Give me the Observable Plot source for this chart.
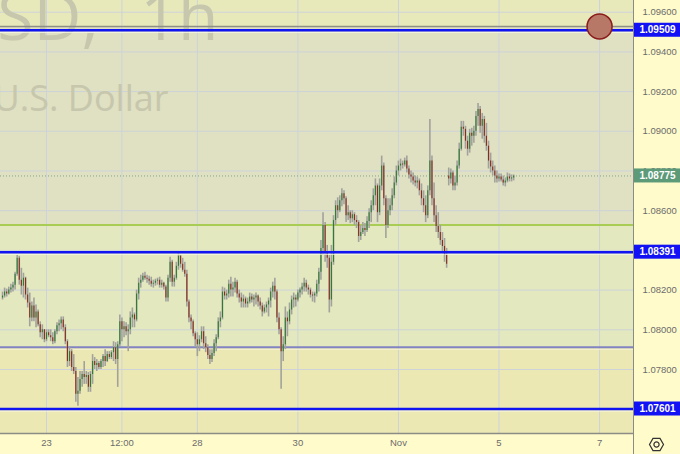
<!DOCTYPE html>
<html><head><meta charset="utf-8">
<script src="https://cdn.jsdelivr.net/npm/d3@7"></script>
<script src="https://cdn.jsdelivr.net/npm/@observablehq/plot@0.6"></script>
<style>
html,body{margin:0;padding:0;background:#fffbcb;}
#chart{width:680px;height:454px;}
</style>
</head><body><div id="chart"></div>
<script>
// Hourly candles; t = trading hours since Oct 23 00:00 (weekends removed)
const startHour = -21;
const firstOpen = 1.0816;
const gapIndex = 213;      // first candle after the weekend (Nov 4 open)
const gapOpen = 1.08775;

const high = [1.0819,1.0821,1.08205,1.08215,1.0823,1.0824,1.0829,1.08375,1.0837,1.0831,1.08285,1.08265,1.0821,1.08185,1.0814,1.0816,1.08125,1.0810,1.0804,1.08025,1.0800,
1.0800,1.0800,1.0800,1.07985,1.0800,1.08035,1.0805,1.08065,1.08065,1.08025,1.0795,1.0791,1.0790,1.07875,1.0781,1.0776,1.0779,1.0779,1.0784,1.0779,1.07785,1.0779,1.07875,1.0786,
1.0785,1.0784,1.0785,1.07875,1.0790,1.0789,1.0789,1.07895,1.0794,1.07935,1.0794,1.08075,1.0806,1.0804,1.08035,1.08025,1.0809,1.0811,1.08085,1.0820,1.0826,1.08275,1.08285,1.0829,
1.08275,1.0827,1.08265,1.0825,1.08255,1.0826,1.08265,1.0825,1.0824,1.08225,1.08275,1.08365,1.0835,1.08275,1.0834,1.0839,1.08375,1.0836,1.0834,1.0830,1.0815,1.08075,1.0805,1.0799,
1.07985,1.0797,1.08015,1.08015,1.07965,1.07925,1.0790,1.0790,1.0795,1.07975,1.0806,1.0809,1.08215,1.0821,1.0820,1.0825,1.08265,1.0824,1.0826,1.0825,1.0820,1.08185,1.08175,1.08165,
1.0816,1.08185,1.0818,1.08175,1.08185,1.08175,1.0816,1.08135,1.08125,1.0814,1.0816,1.0821,1.0824,1.0826,1.0820,1.08085,1.0801,1.07965,1.08115,1.0809,1.08135,1.0817,1.08185,1.08175,
1.0820,1.0821,1.08235,1.0826,1.0825,1.08225,1.0821,1.0819,1.0819,1.0825,1.0831,1.0845,1.0859,1.0854,1.08425,1.08375,1.08425,1.08575,1.0865,1.08665,1.08675,1.0871,1.0870,1.0867,
1.08625,1.0860,1.0860,1.0859,1.08575,1.0855,1.08525,1.0854,1.08535,1.0857,1.0861,1.0865,1.0871,1.0876,1.08735,1.0876,1.08875,1.0884,1.08675,1.0866,1.0866,1.0871,1.0877,1.08825,
1.0885,1.0886,1.0885,1.08865,1.08875,1.08825,1.0880,1.0879,1.08775,1.0877,1.0876,1.08735,1.0870,1.08675,1.08725,1.0906,1.08875,1.0874,1.08625,1.0859,1.08525,1.0849,1.0846,1.0841,
1.08815,1.0881,1.0880,1.08775,1.0885,1.0894,1.0905,1.0905,1.09025,1.08975,1.0901,1.09015,1.09025,1.0910,1.0914,1.09125,1.0909,1.09075,1.0904,1.0895,1.0889,1.0885,1.08825,1.0880,
1.08785,1.08785,1.08775,1.08765,1.0879,1.08785,1.0878,1.0878];

const low = [1.0815,1.0816,1.08165,1.08175,1.08185,1.0819,1.0820,1.0827,1.08225,1.08175,1.0816,1.0815,1.0811,1.08015,1.0804,1.0804,1.0801,1.08015,1.0796,1.0795,1.07935,
1.0794,1.0796,1.0794,1.07925,1.0793,1.07975,1.0799,1.0800,1.0799,1.07925,1.0781,1.07815,1.0779,1.07775,1.07635,1.07615,1.07675,1.0771,1.07725,1.07725,1.07685,1.07685,1.07725,1.0780,
1.0779,1.0780,1.0780,1.0781,1.07815,1.07835,1.0785,1.0785,1.0784,1.07825,1.0771,1.07915,1.0794,1.0796,1.0797,1.0789,1.07975,1.0801,1.0801,1.0804,1.0815,1.0821,1.0824,1.0825,
1.08235,1.08225,1.08215,1.0821,1.0822,1.08225,1.0821,1.0821,1.0820,1.0814,1.0814,1.0824,1.08215,1.08215,1.0825,1.0830,1.0831,1.0829,1.08265,1.08115,1.08035,1.0800,1.07965,1.07915,
1.07865,1.0789,1.07935,1.0790,1.07885,1.0785,1.07825,1.07835,1.07865,1.0789,1.0795,1.0801,1.0805,1.0815,1.0815,1.0816,1.08165,1.08165,1.08185,1.0816,1.08135,1.0811,1.0811,1.0811,
1.0811,1.0813,1.08135,1.08115,1.08125,1.08115,1.0810,1.08065,1.0808,1.08085,1.08065,1.0811,1.0816,1.0815,1.08035,1.07975,1.0770,1.0784,1.0790,1.07965,1.08025,1.08075,1.0811,1.08115,
1.0814,1.0816,1.08175,1.0819,1.0819,1.08175,1.0816,1.0814,1.08135,1.08165,1.0819,1.0825,1.08375,1.0834,1.0831,1.08085,1.08115,1.08325,1.08525,1.0856,1.0859,1.0862,1.0863,1.0854,
1.0855,1.08535,1.0854,1.08525,1.0851,1.0844,1.0845,1.0848,1.0847,1.0849,1.0851,1.0854,1.0860,1.08625,1.0854,1.08575,1.0870,1.08625,1.0846,1.0851,1.08575,1.0860,1.0866,1.08725,
1.08775,1.0880,1.0881,1.0882,1.0879,1.0876,1.0874,1.0873,1.0872,1.0871,1.08675,1.08625,1.0859,1.0854,1.0856,1.08675,1.08625,1.0854,1.0849,1.0846,1.08425,1.0839,1.0834,1.0831,
1.08725,1.08735,1.0870,1.0870,1.08725,1.0881,1.0890,1.08975,1.0891,1.08875,1.0889,1.08925,1.0894,1.08975,1.09025,1.0899,1.0896,1.0894,1.0890,1.0881,1.0879,1.08775,1.0874,1.0874,
1.08745,1.08745,1.08725,1.0872,1.0874,1.08745,1.08745,1.0875];

const close = [1.0817,1.0819,1.0818,1.0820,1.0821,1.08225,1.0828,1.0836,1.0825,1.0822,1.0826,1.08175,1.08135,1.0806,1.0812,1.0806,1.0809,1.08025,1.07985,1.0800,1.0795,
1.07985,1.0797,1.0796,1.0794,1.0799,1.0802,1.0803,1.0805,1.0801,1.0794,1.0784,1.0789,1.0781,1.0779,1.07675,1.0769,1.0775,1.07775,1.0776,1.0777,1.0771,1.07775,1.0784,1.0782,
1.0783,1.0781,1.0784,1.07865,1.0784,1.07875,1.0786,1.07885,1.0791,1.0785,1.07925,1.0804,1.0800,1.08015,1.0799,1.0800,1.0806,1.08075,1.0805,1.0818,1.08235,1.0825,1.0827,1.0826,
1.08255,1.08245,1.0823,1.08235,1.08245,1.0825,1.08225,1.08235,1.08215,1.0816,1.0826,1.0834,1.0824,1.0826,1.0832,1.0837,1.0833,1.0830,1.0828,1.0814,1.0806,1.0804,1.0798,1.0795,
1.07925,1.0795,1.0799,1.0793,1.0791,1.0787,1.0785,1.0788,1.0793,1.0796,1.0804,1.0806,1.0819,1.0817,1.0818,1.0823,1.0820,1.0821,1.0824,1.0818,1.0816,1.0814,1.08155,1.0813,
1.0814,1.08165,1.0815,1.0816,1.0817,1.0814,1.0812,1.0809,1.0811,1.08125,1.08145,1.0819,1.0822,1.0819,1.0806,1.0800,1.0789,1.07925,1.0806,1.0804,1.0810,1.0815,1.0816,1.0815,
1.08185,1.0820,1.08215,1.08235,1.0821,1.0820,1.08175,1.0817,1.0818,1.0823,1.0829,1.0841,1.08525,1.0839,1.0836,1.0815,1.0834,1.0855,1.08625,1.0860,1.0865,1.08685,1.0866,1.08575,
1.0859,1.0856,1.0858,1.0855,1.0854,1.0847,1.0849,1.0851,1.0850,1.08545,1.0859,1.08625,1.08675,1.08725,1.0859,1.08725,1.08825,1.0866,1.08525,1.0860,1.08625,1.08675,1.0874,1.0880,
1.08825,1.08835,1.0883,1.0885,1.0881,1.0878,1.0877,1.0875,1.0874,1.0875,1.0870,1.0866,1.08625,1.08575,1.0870,1.0885,1.0866,1.08575,1.0852,1.0849,1.0845,1.0842,1.08375,1.0833,
1.0876,1.0879,1.08725,1.0874,1.08825,1.0891,1.0902,1.0901,1.0895,1.0891,1.0899,1.08975,1.0900,1.09075,1.0911,1.09025,1.0906,1.08975,1.08925,1.0885,1.0882,1.0880,1.08775,1.0876,
1.0877,1.08755,1.0874,1.0875,1.0877,1.0876,1.08765,1.08775];

// axis ticks
const xTicks = [0, 36, 72, 120, 168, 216, 264];
const xTickLabels = ["23", "12:00", "28", "30", "Nov", "5", "7"];
const yGridTicks = [1.096, 1.094, 1.092, 1.090, 1.088, 1.086, 1.084, 1.082, 1.080, 1.078, 1.076];
const yLabelTicks = [1.096, 1.094, 1.092, 1.090, 1.088, 1.086, 1.082, 1.080, 1.078];

// watermark
const symbolText = "EURUSD,";
const intervalText = "1h";
const descriptionText = "U.S. Dollar";

// horizontal levels
const blueLevels = [1.09509, 1.08391, 1.07601];
const greyLevel = 1.09528;
const greenLevel = 1.08528;
const purpleLevel = 1.07912;
const lastPrice = 1.08775;
const markerPoint = [{t: 264, price: 1.09528}];
const priceLabels = [
  {price: 1.09509, color: "#1212f5"},
  {price: 1.08775, color: "#5c9a78"},
  {price: 1.08391, color: "#1212f5"},
  {price: 1.07601, color: "#1212f5"}
];

const xDomain = [-21.96, 280.2];
const yDomain = [1.074776, 1.096589];

const bands = [
  {from: greyLevel, to: yDomain[1], color: "#e7e9bb"},
  {from: greenLevel, to: greyLevel, color: "#e0e0c2"},
  {from: purpleLevel, to: greenLevel, color: "#e3e8bf"},
  {from: yDomain[0], to: purpleLevel, color: "#ebe8b3"}
];

const candles = close.map((c, i) => ({
  t: startHour + i,
  open: i === 0 ? firstOpen : (i === gapIndex ? gapOpen : close[i - 1]),
  high: high[i], low: low[i], close: c
}));

const font = "'Liberation Sans', Arial, sans-serif";
const wmFont = "'Open Sans', sans-serif";
const wmColor = "#c6c7ac";

const plot = Plot.plot({
  width: 680, height: 454,
  marginLeft: 0, marginRight: 47, marginTop: 0, marginBottom: 21,
  style: {background: "#fffbcb", fontFamily: font, fontSize: "9.5px", color: "#6c6c6c", overflow: "visible"},
  x: {domain: xDomain, axis: null, label: null},
  y: {domain: yDomain, axis: null, label: null},
  marks: [
    Plot.rect(bands, {y1: "from", y2: "to", fill: "color"}),
    Plot.gridX(xTicks, {stroke: "#cdd3d8", strokeOpacity: 1, strokeWidth: 1}),
    Plot.gridY(yGridTicks, {stroke: "#cdd3d8", strokeOpacity: 1, strokeWidth: 1}),
    Plot.text([symbolText], {frameAnchor: "top-left", textAnchor: "end", lineAnchor: "bottom", dx: 98, dy: 39, fontSize: 66, fill: wmColor, fontFamily: wmFont}),
    Plot.text([intervalText], {frameAnchor: "top-left", textAnchor: "end", lineAnchor: "bottom", dx: 218, dy: 39, fontSize: 66, fill: wmColor, fontFamily: wmFont}),
    Plot.text([descriptionText], {frameAnchor: "top-left", textAnchor: "end", lineAnchor: "bottom", dx: 168, dy: 110, fontSize: 36, fill: wmColor, fontFamily: wmFont}),
    Plot.ruleY([greenLevel], {stroke: "#a9cc55", strokeWidth: 2}),
    Plot.ruleY([purpleLevel], {stroke: "#f7f4d6", strokeWidth: 1, dy: 2}),
    Plot.ruleY([purpleLevel], {stroke: "#8183c2", strokeWidth: 2}),
    Plot.ruleY([greyLevel], {stroke: "#8e8e88", strokeWidth: 1.5}),
    Plot.ruleY([lastPrice], {stroke: "#7fa889", strokeWidth: 1, strokeDasharray: "1,2"}),
    Plot.ruleX(candles, {x: "t", y1: "low", y2: "high", stroke: "#a2a29c", strokeWidth: 1.6}),
    Plot.ruleX(candles, {x: "t", y1: "open", y2: "close", stroke: d => d.close >= d.open ? "#2f7a34" : "#8a2c1c", strokeWidth: 1.1}),
    Plot.ruleY(blueLevels, {stroke: "#fbfbe8", strokeWidth: 1, dy: 2}),
    Plot.ruleY(blueLevels, {stroke: "#0f14f0", strokeWidth: 2.5}),
    Plot.dot(markerPoint, {x: "t", y: "price", r: 12.5, fill: "#b87868", stroke: "#8b1c1c", strokeWidth: 1.5}),
    Plot.axisX(xTicks, {tickSize: 0, tickPadding: 6, label: null, tickFormat: d => xTickLabels[xTicks.indexOf(d)], fill: "#6c6c6c", fontSize: 9.5}),
    Plot.axisY(yLabelTicks, {anchor: "right", tickSize: 0, tickPadding: 9, label: null, tickFormat: d3.format(".5f"), fill: "#6c6c6c", fontSize: 9.5})
  ]
});

document.getElementById("chart").append(plot);

// panel chrome + price label boxes (positioned with Plot's own y scale)
const svg = d3.select(plot);
const ys = plot.scale("y");
const W = 680, H = 454, R = 633, B = 433;
svg.append("line").attr("x1", 0).attr("x2", R).attr("y1", B + 0.5).attr("y2", B + 0.5).attr("stroke", "#8c8c86").attr("stroke-width", 1.5);
svg.append("line").attr("x1", R + 0.5).attr("x2", R + 0.5).attr("y1", 0).attr("y2", H).attr("stroke", "#8c8c86").attr("stroke-width", 1);
const g = svg.append("g");
priceLabels.forEach(p => {
  const y = ys.apply(p.price);
  g.append("rect").attr("x", R + 1).attr("y", y - 7).attr("width", W - R - 1).attr("height", 14).attr("fill", p.color);
  g.append("text").attr("x", (R + W) / 2 + 1).attr("y", y).attr("dy", "0.35em").attr("text-anchor", "middle")
    .attr("fill", "#ffffff").attr("font-weight", "bold").attr("font-size", 10).attr("font-family", font)
    .text(d3.format(".5f")(p.price));
});
// settings icon
const ic = svg.append("g").attr("transform", `translate(${(R + W) / 2},${(B + H) / 2 + 1})`).attr("fill", "none").attr("stroke", "#333").attr("stroke-width", 1.2);
ic.append("path").attr("d", d3.range(6).map((k, i) => { const a = Math.PI / 3 * k; return (i ? "L" : "M") + (7 * Math.cos(a)).toFixed(2) + "," + (7 * Math.sin(a)).toFixed(2); }).join("") + "Z");
ic.append("circle").attr("r", 2.6);
</script>
</body></html>
